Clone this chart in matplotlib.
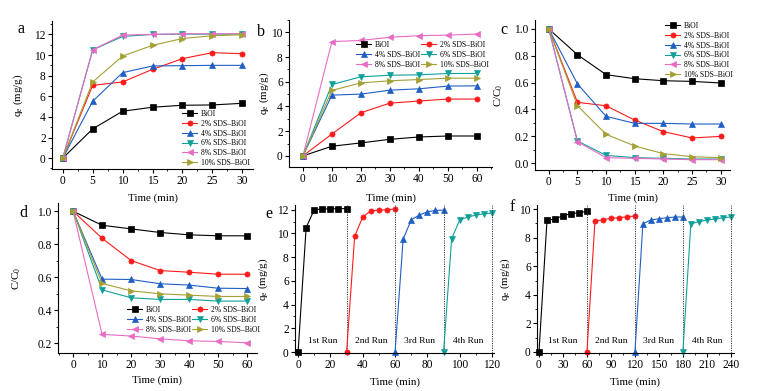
import matplotlib
matplotlib.use("Agg")
import matplotlib.pyplot as plt
from matplotlib.ticker import AutoMinorLocator, MultipleLocator

plt.rcParams['font.family'] = ['Liberation Serif', 'DejaVu Serif']
plt.rcParams['mathtext.fontset'] = 'custom'
plt.rcParams['mathtext.rm'] = 'Liberation Serif'
plt.rcParams['mathtext.it'] = 'Liberation Serif:italic'

W, H = 761, 391

# ---- data ----
labels = ['BiOI', '2% SDS\u2013BiOI', '4% SDS\u2013BiOI',
          '6% SDS\u2013BiOI', '8% SDS\u2013BiOI', '10% SDS\u2013BiOI']

time_a = [0, 5, 10, 15, 20, 25, 30]
qe_a = [
    [0, 2.84, 4.55, 4.94, 5.13, 5.16, 5.32],
    [0, 7.06, 7.39, 8.61, 9.65, 10.23, 10.13],
    [0, 5.52, 8.29, 8.94, 8.97, 9.0, 9.0],
    [0, 10.5, 11.8, 12.0, 12.03, 12.03, 12.03],
    [0, 10.5, 11.94, 12.0, 12.06, 12.06, 12.06],
    [0, 7.39, 9.9, 10.94, 11.6, 11.87, 11.97],
]

time_b = [0, 10, 20, 30, 40, 50, 60]
qe_b = [
    [0, 0.78, 1.05, 1.34, 1.53, 1.61, 1.61],
    [0, 1.77, 3.49, 4.27, 4.44, 4.6, 4.6],
    [0, 4.92, 5.0, 5.32, 5.43, 5.65, 5.67],
    [0, 5.78, 6.4, 6.53, 6.56, 6.67, 6.67],
    [0, 9.25, 9.35, 9.6, 9.73, 9.78, 9.86],
    [0, 5.3, 5.91, 6.08, 6.18, 6.29, 6.29],
]

time_c = [0, 5, 10, 15, 20, 25, 30]
cc0_c = [
    [1, 0.808, 0.659, 0.629, 0.614, 0.609, 0.597],
    [1, 0.453, 0.427, 0.32, 0.234, 0.187, 0.199],
    [1, 0.59, 0.348, 0.296, 0.296, 0.291, 0.291],
    [1, 0.164, 0.057, 0.04, 0.035, 0.03, 0.03],
    [1, 0.159, 0.04, 0.035, 0.03, 0.025, 0.025],
    [1, 0.428, 0.214, 0.127, 0.07, 0.047, 0.04],
]

time_d = [0, 10, 20, 30, 40, 50, 60]
cc0_d = [
    [1, 0.915, 0.893, 0.871, 0.857, 0.851, 0.851],
    [1, 0.836, 0.701, 0.640, 0.630, 0.618, 0.618],
    [1, 0.588, 0.586, 0.560, 0.552, 0.533, 0.531],
    [1, 0.523, 0.475, 0.465, 0.465, 0.455, 0.455],
    [1, 0.253, 0.243, 0.226, 0.214, 0.210, 0.202],
    [1, 0.562, 0.517, 0.499, 0.491, 0.483, 0.483],
]

run_names = ['1st Run', '2nd Run', '3rd Run', '4th Run']

time_e = [[0, 5, 10, 15, 20, 25, 30],
          [30, 35, 40, 45, 50, 55, 60],
          [60, 65, 70, 75, 80, 85, 90],
          [90, 95, 100, 105, 110, 115, 120]]
qe_e = [[0, 10.5, 12.0, 12.06, 12.08, 12.08, 12.1],
        [0, 9.75, 11.4, 11.9, 11.97, 12.0, 12.06],
        [0, 9.52, 11.15, 11.55, 11.83, 11.94, 11.97],
        [0, 9.55, 11.15, 11.38, 11.55, 11.66, 11.72]]

time_f = [[0, 10, 20, 30, 40, 50, 60],
          [60, 70, 80, 90, 100, 110, 120],
          [120, 130, 140, 150, 160, 170, 180],
          [180, 190, 200, 210, 220, 230, 240]]
qe_f = [[0, 9.21, 9.3, 9.53, 9.67, 9.74, 9.84],
        [0, 9.14, 9.25, 9.35, 9.39, 9.46, 9.51],
        [0, 8.97, 9.23, 9.32, 9.39, 9.44, 9.44],
        [0, 8.97, 9.11, 9.23, 9.3, 9.39, 9.44]]

# ---- style ----
colors = ['#000000', '#ff1a1a', '#1f5fc4', '#10a09a', '#e86cc4', '#a4a034']
markers = ['s', 'o', '^', 'v', '<', '>']
run_colors = ['#000000', '#ff1a1a', '#1f5fc4', '#10a09a']
run_markers = ['s', 'o', '^', 'v']

FS = 7.9
TICK_FS = 8.3
LEG_FS = 5.5


def rect(l, t, r, b):
    return [l / W, 1 - b / H, (r - l) / W, (b - t) / H]


def style_axes(ax, xmaj, ymaj):
    for s in ['top', 'right']:
        ax.spines[s].set_visible(False)
    for s in ['left', 'bottom']:
        ax.spines[s].set_linewidth(0.8)
    ax.xaxis.set_major_locator(MultipleLocator(xmaj))
    ax.yaxis.set_major_locator(MultipleLocator(ymaj))
    ax.xaxis.set_minor_locator(AutoMinorLocator(2))
    ax.yaxis.set_minor_locator(AutoMinorLocator(2))
    ax.tick_params(which='major', direction='out', length=3, width=0.8,
                   labelsize=TICK_FS, pad=1.5)
    ax.tick_params(which='minor', direction='out', length=1.6, width=0.6)


def label_axes(ax, ylab, ylx, xly):
    ax.set_xlabel('Time (min)', fontsize=FS)
    ax.set_ylabel(ylab, fontsize=FS)
    ax.yaxis.set_label_coords(ylx, 0.5)
    ax.xaxis.set_label_coords(0.5, xly)


def add_legend(ax, handles, ncol, x, y):
    ax.legend(handles=handles, loc='upper left', ncol=ncol,
              bbox_to_anchor=(x / W, 1 - y / H), bbox_transform=fig.transFigure,
              frameon=False, fontsize=LEG_FS, borderpad=0, borderaxespad=0,
              handlelength=2.0, handletextpad=0.45, labelspacing=0.23,
              columnspacing=0.15)


def plot_series(ax, t, series):
    lines = []
    for ys, lab, c, m in zip(series, labels, colors, markers):
        ln, = ax.plot(t, ys, color=c, marker=m, ms=3.7, lw=0.8, label=lab,
                      markeredgewidth=0.5)
        lines.append(ln)
    return lines


fig = plt.figure(figsize=(W / 100, H / 100), dpi=100)

# a
ax = fig.add_axes(rect(52, 21, 253, 169))
ln = plot_series(ax, time_a, qe_a)
ax.set_xlim(-1.8, 31.8)
ax.set_ylim(-1.05, 13.3)
style_axes(ax, 5, 2)
label_axes(ax, 'q$_\\mathregular{e}$ (mg/g)', -0.134, -0.162)
add_legend(ax, ln, 1, 182, 110)

# b
ax = fig.add_axes(rect(289, 20, 492, 167))
ln = plot_series(ax, time_b, qe_b)
ax.set_xlim(-4.8, 65.2)
ax.set_ylim(-0.9, 11)
style_axes(ax, 10, 2)
label_axes(ax, 'q$_\\mathregular{e}$ (mg/g)', -0.089, -0.177)
add_legend(ax, [ln[0], ln[2], ln[4], ln[1], ln[3], ln[5]], 2, 356, 41)

# c
ax = fig.add_axes(rect(535, 20, 730, 170))
ln = plot_series(ax, time_c, cc0_c)
ax.set_xlim(-2.4, 31.6)
ax.set_ylim(-0.052, 1.067)
style_axes(ax, 5, 0.2)
label_axes(ax, 'C/C$_\\mathregular{0}$', -0.154, -0.153)
add_legend(ax, ln, 1, 665, 22)

# d
ax = fig.add_axes(rect(58, 203, 257, 353))
ln = plot_series(ax, time_d, cc0_d)
ax.set_xlim(-5.2, 63.4)
ax.set_ylim(0.14, 1.05)
style_axes(ax, 10, 0.2)
label_axes(ax, 'C/C$_\\mathregular{0}$', -0.176, -0.147)
add_legend(ax, [ln[0], ln[2], ln[4], ln[1], ln[3], ln[5]], 2, 127, 306)


def plot_runs(ax, times, series, text_y):
    for t, ys, c, m, name in zip(times, series, run_colors, run_markers, run_names):
        ax.plot(t, ys, color=c, marker=m, ms=3.7, lw=0.8, markeredgewidth=0.5,
                clip_on=False)
        ax.axvline(t[-1], color='#333333', ls=(0, (1.2, 1.2)), lw=0.7)
        ax.text((t[0] + t[-1]) / 2, text_y, name, fontsize=6.8,
                ha='center', va='center')


# e
ax = fig.add_axes(rect(295, 205, 494, 353))
plot_runs(ax, time_e, qe_e, 0.95)
ax.set_xlim(-1.9, 121.2)
ax.set_ylim(-0.08, 12.4)
style_axes(ax, 20, 2)
label_axes(ax, 'q$_\\mathregular{e}$ (mg/g)', -0.126, -0.162)

# f
ax = fig.add_axes(rect(537, 205, 734, 353))
plot_runs(ax, time_f, qe_f, 0.79)
ax.set_xlim(-2.5, 244)
ax.set_ylim(-0.07, 10.28)
style_axes(ax, 30, 2)
label_axes(ax, 'q$_\\mathregular{e}$ (mg/g)', -0.127, -0.162)

# panel letters
for letter, x, y in [('a', 21, 29), ('b', 261, 32), ('c', 504, 30),
                     ('d', 23, 213), ('e', 269, 214), ('f', 512, 207)]:
    fig.text(x / W, 1 - y / H, letter, fontsize=11.5, ha='center', va='center')

fig.savefig('out.png', dpi=100)
